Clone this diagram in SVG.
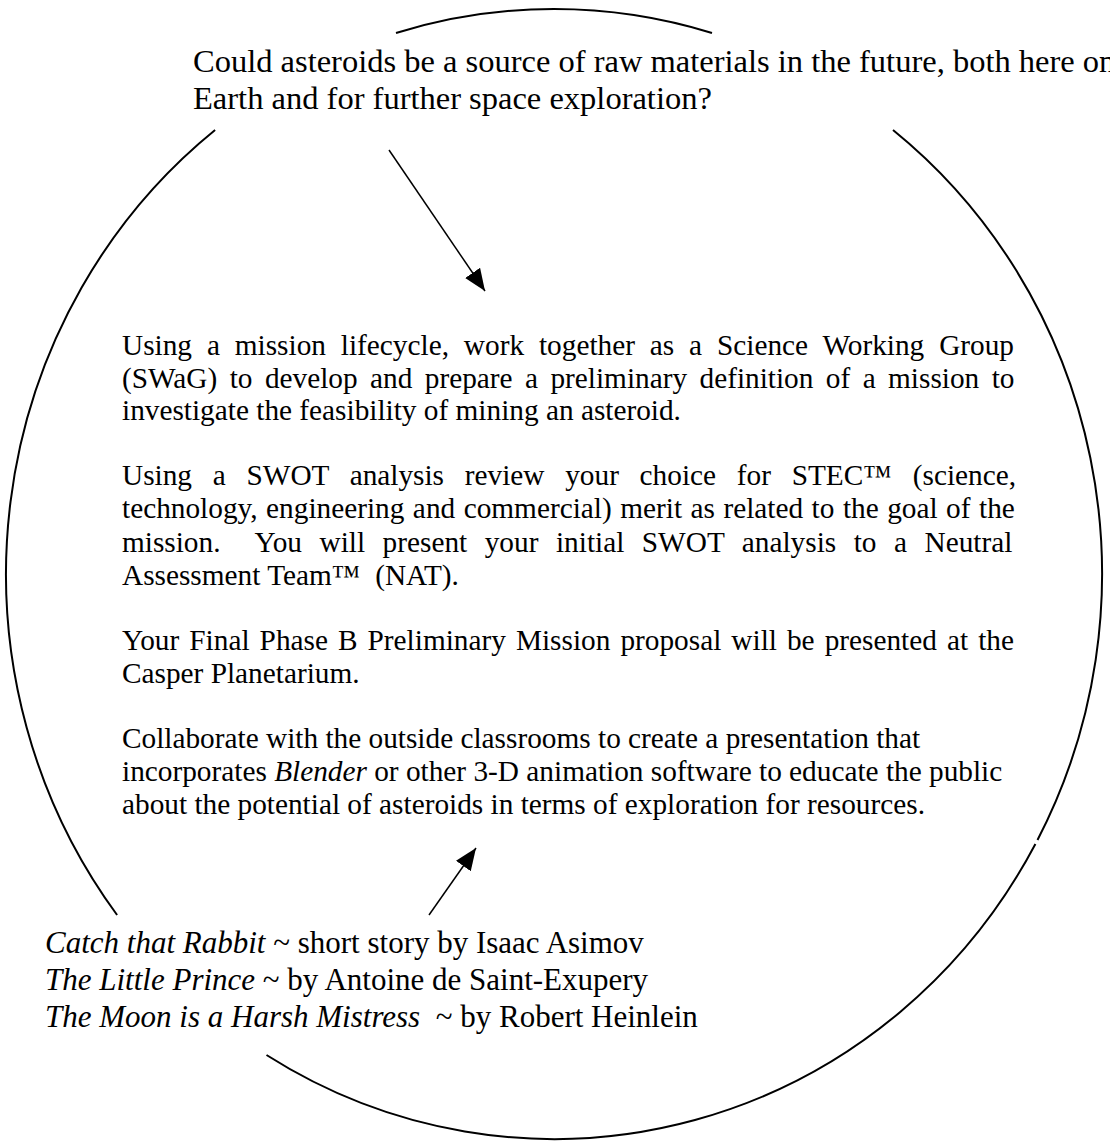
<svg xmlns="http://www.w3.org/2000/svg" width="1110" height="1141" viewBox="0 0 1110 1141">
<defs>
<style>
.t{font-family:"Liberation Serif","Times New Roman",serif;fill:#000}
.q{font-size:32.5px}
.m{font-size:29.3px}
.b{font-size:31px}
.i{font-style:italic}
.arc{fill:none;stroke:#000;stroke-width:2}
.conn{fill:none;stroke:#000;stroke-width:1.5}
</style>
<marker id="ah" markerUnits="userSpaceOnUse" markerWidth="24" markerHeight="20" refX="22" refY="9" orient="auto">
<path d="M0,0 L22,9 L0,18 Z" fill="#000"/>
</marker>
</defs>
<rect width="1110" height="1141" fill="#fff"/>
<g id="circle">
<path class="arc" d="M396,33 A548,565 0 0 1 712,33"/>
<path class="arc" d="M893,130 A548,565 0 0 1 1037.5,840"/>
<path class="arc" d="M1035.4,844 A548,565 0 0 1 266.5,1055"/>
<path class="arc" d="M117.1,915 A548,565 0 0 1 215.1,130"/>
</g>
<g id="connectors">
<line class="conn" x1="389" y1="150" x2="485" y2="291" marker-end="url(#ah)"/>
<line class="conn" x1="429" y1="915" x2="476" y2="848" marker-end="url(#ah)"/>
</g>
<g id="node-question">
<text class="t q" x="193" y="72">Could asteroids be a source of raw materials in the future, both here on</text>
<text class="t q" x="193" y="109">Earth and for further space exploration?</text>
</g>
<g id="node-mission">
<text class="t m" x="122" y="355" word-spacing="7.56">Using a mission lifecycle, work together as a Science Working Group</text>
<text class="t m" x="122" y="387.7" word-spacing="5.09">(SWaG) to develop and prepare a preliminary definition of a mission to</text>
<text class="t m" x="122" y="420.4">investigate the feasibility of mining an asteroid.</text>
<text class="t m" x="122" y="485" word-spacing="13.4">Using a SWOT analysis review your choice for STEC™ (science,</text>
<text class="t m" x="122" y="518" word-spacing="1.17">technology, engineering and commercial) merit as related to the goal of the</text>
<text class="t m" x="122" y="551.5" word-spacing="10.2" xml:space="preserve">mission.  You will present your initial SWOT analysis to a Neutral</text>
<text class="t m" x="122" y="585" xml:space="preserve">Assessment Team™  (NAT).</text>
<text class="t m" x="122" y="650" word-spacing="2.72">Your Final Phase B Preliminary Mission proposal will be presented at the</text>
<text class="t m" x="122" y="682.5">Casper Planetarium.</text>
<text class="t m" x="122" y="748">Collaborate with the outside classrooms to create a presentation that</text>
<text class="t m" x="122" y="781">incorporates <tspan class="i">Blender</tspan> or other 3-D animation software to educate the public</text>
<text class="t m" x="122" y="813.5">about the potential of asteroids in terms of exploration for resources.</text>
</g>
<g id="node-books">
<text class="t b" x="45" y="953"><tspan class="i">Catch that Rabbit</tspan> ~ short story by Isaac Asimov</text>
<text class="t b" x="45" y="990"><tspan class="i">The Little Prince</tspan> ~ by Antoine de Saint-Exupery</text>
<text class="t b" x="45" y="1027" xml:space="preserve"><tspan class="i">The Moon is a Harsh Mistress</tspan>  ~ by Robert Heinlein</text>
</g>
</svg>
